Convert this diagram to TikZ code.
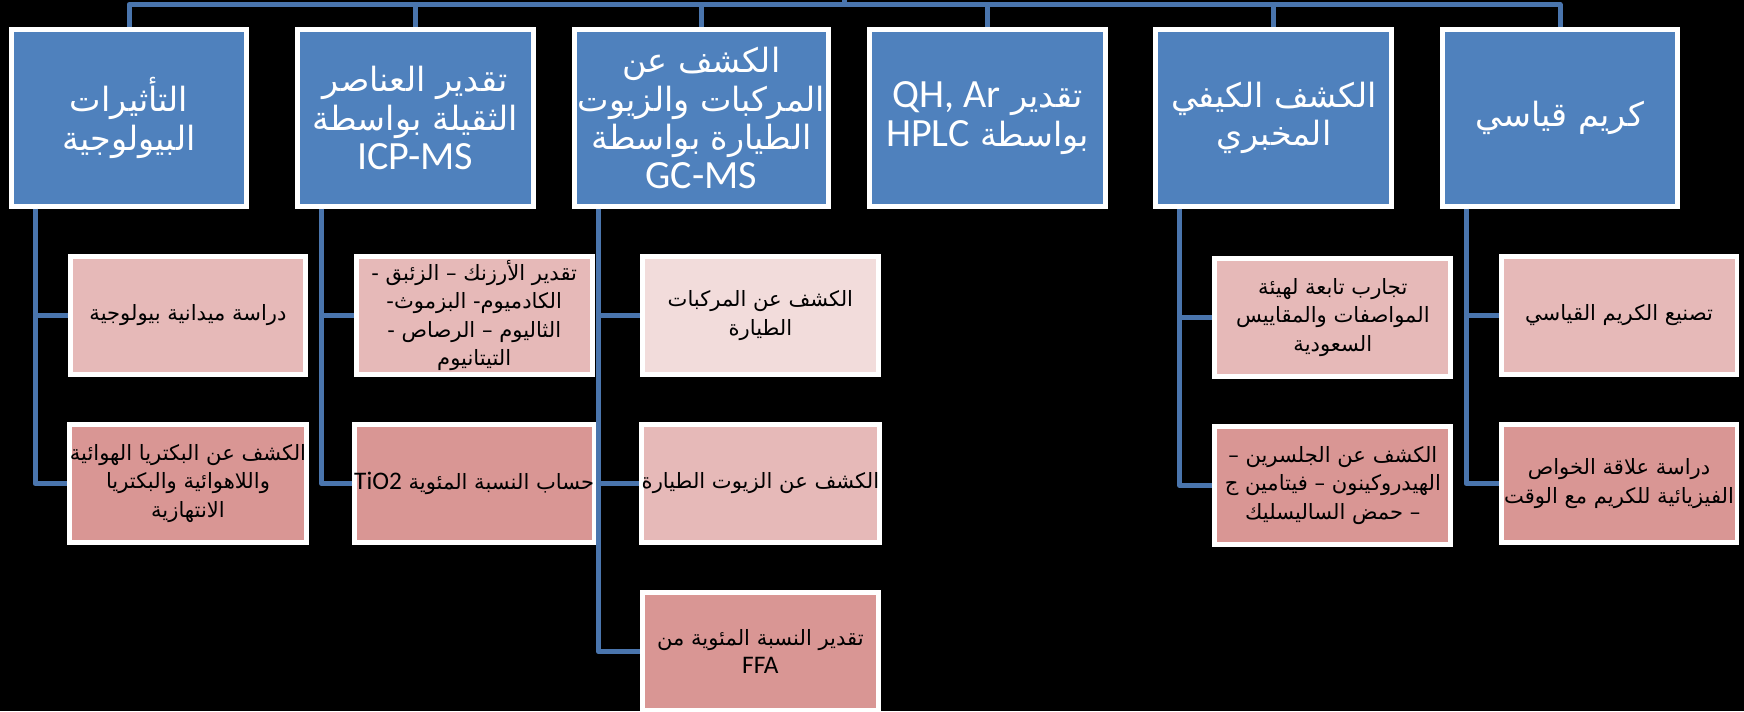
\documentclass[tikz,border=0pt]{standalone}
\usepackage{fontspec}
\newfontfamily\arabicfont[Script=Arabic]{DejaVu Sans}
\newfontfamily\latinfont[Scale=1.2]{Carlito}
\TeXXeTstate=1
\definecolor{headblue}{HTML}{4F81BD}
\definecolor{linkblue}{HTML}{4A75AD}
\definecolor{pinklight}{HTML}{F2DCDB}
\definecolor{pinkmid}{HTML}{E6B9B8}
\definecolor{pinkdark}{HTML}{D99694}
\newcommand{\arline}[1]{\beginR #1\endR}
\newcommand{\latrun}[1]{\beginL{\latinfont #1}\endL}

\begin{document}
\begin{tikzpicture}
  [x=0.02cm,y=-0.02cm,
   headbox/.style={draw=white,line width=0.1cm,fill=headblue,text=white,
     minimum width=4.72cm,minimum height=3.54cm,align=center,inner sep=2pt,
     font=\arabicfont\fontsize{19}{22}\selectfont},
   subbox/.style={draw=white,line width=0.1cm,text=black,
     minimum width=4.72cm,minimum height=2.36cm,align=center,inner sep=0pt,
     font=\arabicfont\fontsize{12}{16}\selectfont},
   link/.style={draw=linkblue,line width=0.1cm,line join=round}]
  \useasboundingbox (0,0) rectangle (1744,711);
  \clip (0,0) rectangle (1744,711);
  \fill[black] (0,0) rectangle (1744,711);

  % top row
  \node[headbox] (h1) at (129,118) {\arline{التأثيرات}\\\arline{البيولوجية}};
  \node[headbox] (h2) at (415.2,118) {\arline{تقدير العناصر}\\\arline{الثقيلة بواسطة}\\{\latinfont ICP-MS}};
  \node[headbox] (h3) at (701.4,118) {\arline{الكشف عن}\\\arline{المركبات والزيوت}\\\arline{الطيارة بواسطة}\\{\latinfont GC-MS}};
  \node[headbox] (h4) at (987.6,118) {\arline{تقدير \latrun{QH, Ar}}\\\arline{بواسطة \latrun{HPLC}}};
  \node[headbox] (h5) at (1273.8,118) {\arline{الكشف الكيفي}\\\arline{المخبري}};
  \node[headbox] (h6) at (1560,118) {\arline{كريم قياسي}};

  % second level
  \node[subbox,fill=pinkmid] (c11) at (188,315.5) {\arline{دراسة ميدانية بيولوجية}};
  \node[subbox,fill=pinkdark] (c12) at (188,483.5) {\arline{الكشف عن البكتريا الهوائية}\\\arline{واللاهوائية والبكتريا}\\\arline{الانتهازية}};
  \node[subbox,fill=pinkmid] (c21) at (474.2,315.5) {\arline{تقدير الأرزنك – الزئبق -}\\\arline{الكادميوم- البزموث-}\\\arline{الثاليوم – الرصاص -}\\\arline{التيتانيوم}};
  \node[subbox,fill=pinkdark] (c22) at (474.2,483.5) {\arline{حساب النسبة المئوية \latrun{TiO2}}};
  \node[subbox,fill=pinklight] (c31) at (760.4,315.5) {\arline{الكشف عن المركبات}\\\arline{الطيارة}};
  \node[subbox,fill=pinkmid] (c32) at (760.4,483.5) {\arline{الكشف عن الزيوت الطيارة}};
  \node[subbox,fill=pinkdark] (c33) at (760.4,651.5) {\arline{تقدير النسبة المئوية من}\\{\latinfont FFA}};
  \node[subbox,fill=pinkmid] (c51) at (1332.8,317.5) {\arline{تجارب تابعة لهيئة}\\\arline{المواصفات والمقاييس}\\\arline{السعودية}};
  \node[subbox,fill=pinkdark] (c52) at (1332.8,485.5) {\arline{الكشف عن الجلسرين –}\\\arline{الهيدروكينون – فيتامين ج}\\\arline{– حمض الساليسليك}};
  \node[subbox,fill=pinkmid] (c61) at (1619,315.5) {\arline{تصنيع الكريم القياسي}};
  \node[subbox,fill=pinkdark] (c62) at (1619,483.5) {\arline{دراسة علاقة الخواص}\\\arline{الفيزيائية للكريم مع الوقت}};

  % connectors
  \coordinate (root) at (844.5,0);
  \coordinate (bar) at (844.5,4.5);
  \draw[link] (root) -- (bar);
  \foreach \i in {1,...,6}
    \draw[link] (bar) -| (h\i.north);
  \foreach \i/\j in {1/1,1/2,2/1,2/2,3/1,3/2,3/3,5/1,5/2,6/1,6/2}
    \draw[link] ([xshift=0.53cm]h\i.south west) |- (c\i\j.west);

\end{tikzpicture}
\end{document}
